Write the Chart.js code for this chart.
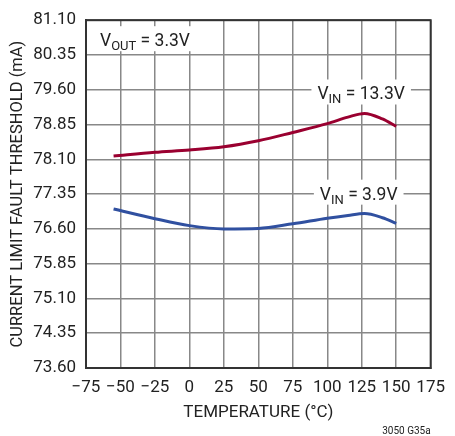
<!DOCTYPE html>
<html>
<head>
<meta charset="utf-8">
<script src="https://cdn.jsdelivr.net/npm/chart.js@4"></script>
<style>
  html, body { margin: 0; padding: 0; background: #fff; }
  #wrap { width: 455px; height: 436px; }
</style>
</head>
<body>
<div id="wrap"><canvas id="faultChart"></canvas></div>
<script>
const FONT = "Roboto, 'Liberation Sans', sans-serif";

const temps = [-55, -25, 0, 25, 50, 75, 100, 115, 127, 140, 150];
const vin133 = [78.17, 78.25, 78.30, 78.37, 78.50, 78.68, 78.87, 79.01, 79.09, 78.97, 78.81];
const vin39 = [77.03, 76.82, 76.67, 76.60, 76.61, 76.71, 76.83, 76.89, 76.93, 76.84, 76.72];
const xTicks = [-75, -50, -25, 0, 25, 50, 75, 100, 125, 150, 175];
const yTicks = [73.60, 74.35, 75.10, 75.85, 76.60, 77.35, 78.10, 78.85, 79.60, 80.35, 81.10];

// labels drawn on the plot: [main, subscript, rest, x value, y value]
const curveLabels = [
    ['V', 'IN', ' = 13.3V', 124.6, 79.39],
    ['V', 'IN', ' = 3.9V', 122.8, 77.23]
];

function toPoints(xs, ys) {
    return xs.map((x, i) => ({ x: x, y: ys[i] }));
}

function drawSubLabel(ctx, parts, x, y, align) {
    const big = '17.5px ' + FONT, small = '13px ' + FONT;
    ctx.font = big;
    const w1 = ctx.measureText(parts[0]).width;
    const w3 = ctx.measureText(parts[2]).width;
    ctx.font = small;
    const w2 = ctx.measureText(parts[1]).width;
    const total = w1 + w2 + w3;
    let left = align === 'center' ? x - total / 2 : x;
    ctx.fillStyle = '#fff';
    ctx.fillRect(left - 6, y - 20, total + 12, 25);
    ctx.fillStyle = '#222';
    ctx.textBaseline = 'alphabetic';
    ctx.textAlign = 'left';
    ctx.font = big;
    ctx.fillText(parts[0], left, y);
    ctx.font = small;
    ctx.fillText(parts[1], left + w1, y + 4);
    ctx.font = big;
    ctx.fillText(parts[2], left + w1 + w2, y);
}

const labelPlugin = {
    id: 'labels',
    beforeDatasetsDraw(chart) {
        const ctx = chart.ctx;
        const xs = chart.scales.x, ys = chart.scales.y;
        ctx.save();
        curveLabels.forEach(l => {
            drawSubLabel(ctx, l, xs.getPixelForValue(l[3]), ys.getPixelForValue(l[4]), 'center');
        });
        drawSubLabel(ctx, ['V', 'OUT', ' = 3.3V'], chart.chartArea.left + 14, chart.chartArea.top + 26, 'left');
        ctx.restore();
    },
    afterDraw(chart) {
        const ctx = chart.ctx, a = chart.chartArea;
        ctx.save();
        ctx.strokeStyle = '#333';
        ctx.lineWidth = 2;
        ctx.strokeRect(a.left, a.top, a.right - a.left, a.bottom - a.top);
        ctx.fillStyle = '#222';
        ctx.font = '10px ' + FONT;
        ctx.textAlign = 'right';
        ctx.textBaseline = 'alphabetic';
        ctx.fillText('3050 G35a', a.right, 434);
        ctx.restore();
    }
};

new Chart(document.getElementById('faultChart'), {
    type: 'line',
    data: {
        datasets: [{
            label: 'VIN = 13.3V',
            data: toPoints(temps, vin133),
            borderColor: '#9a0030',
            borderWidth: 3,
            pointRadius: 0,
            cubicInterpolationMode: 'monotone'
        }, {
            label: 'VIN = 3.9V',
            data: toPoints(temps, vin39),
            borderColor: '#3050a0',
            borderWidth: 3,
            pointRadius: 0,
            cubicInterpolationMode: 'monotone'
        }]
    },
    options: {
        responsive: true,
        maintainAspectRatio: false,
        animation: false,
        layout: { padding: { left: 0, right: 17, top: 17, bottom: 0 } },
        plugins: { legend: { display: false }, tooltip: { enabled: false } },
        scales: {
            x: {
                type: 'linear',
                min: -75,
                max: 175,
                afterBuildTicks: s => { s.ticks = xTicks.map(v => ({ value: v })); },
                afterFit: s => { s.height = 68; },
                grid: { color: '#888', lineWidth: 1.5, drawTicks: false },
                border: { color: '#333', width: 2 },
                ticks: {
                    padding: 10,
                    color: '#222',
                    autoSkip: false,
                    font: { family: FONT, size: 17 },
                    maxRotation: 0,
                    callback: v => String(v).replace('-', '\u2212')
                },
                title: {
                    display: true,
                    text: 'TEMPERATURE (°C)',
                    color: '#222',
                    font: { family: FONT, size: 17 },
                    padding: { top: 0, bottom: 13 }
                }
            },
            y: {
                min: 73.60,
                max: 81.10,
                afterBuildTicks: s => { s.ticks = yTicks.map(v => ({ value: v })); },
                afterFit: s => { s.width = 86; },
                grid: { color: '#888', lineWidth: 1.5, drawTicks: false },
                border: { color: '#333', width: 2 },
                ticks: {
                    padding: 10,
                    color: '#222',
                    font: { family: FONT, size: 17 },
                    callback: v => v.toFixed(2)
                },
                title: {
                    display: true,
                    text: 'CURRENT LIMIT FAULT THRESHOLD (mA)',
                    color: '#222',
                    font: { family: FONT, size: 16.5 },
                    padding: { top: 8, bottom: 0 }
                }
            }
        }
    },
    plugins: [labelPlugin]
});
</script>
</body>
</html>
